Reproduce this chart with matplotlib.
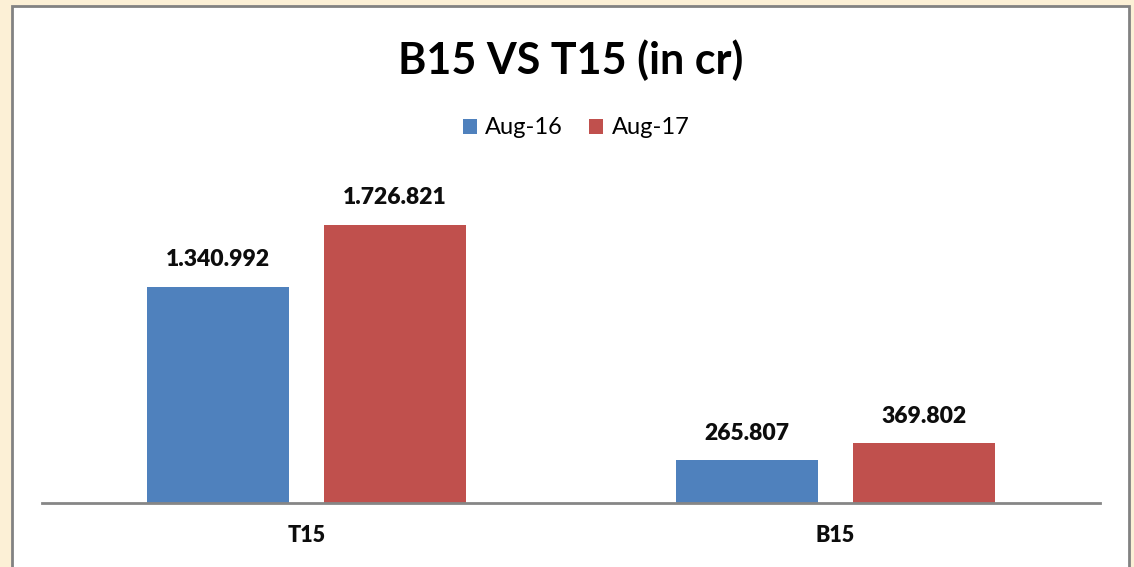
import matplotlib
matplotlib.use("Agg")
import matplotlib.pyplot as plt
from matplotlib.patches import Rectangle
import numpy as np

categories = ["T15", "B15"]
series_names = ["Aug-16", "Aug-17"]
aug16 = [1340.992, 265.807]
aug17 = [1726.821, 369.802]
labels16 = ["1.340.992", "265.807"]
labels17 = ["1.726.821", "369.802"]
colors = ["#4F81BD", "#C0504D"]

FONT = "Lato"
fig = plt.figure(figsize=(11.34, 5.67), dpi=100)
fig.patch.set_facecolor("#FCF0D6")

panel = Rectangle((12/1134, -0.05), 1117/1134, 1.05 - 6/567, transform=fig.transFigure,
                  facecolor="white", edgecolor="#828282", linewidth=2.0, zorder=-10)
fig.patches.append(panel)

ax = fig.add_axes([42/1134, 1 - 503/567, 1058/1134, (503 - 181)/567])
ax.set_facecolor("none")
x = np.arange(len(categories))
w = 0.2666
off = 0.1673
b1 = ax.bar(x - off, aug16, w, color=colors[0], label=series_names[0], zorder=2)
b2 = ax.bar(x + off, aug17, w, color=colors[1], label=series_names[1], zorder=2)
ax.set_xlim(-0.5, 1.5)
ax.set_ylim(0, 2000)
for bars, labs in ((b1, labels16), (b2, labels17)):
    for rect, lab in zip(bars, labs):
        ax.annotate(lab, (rect.get_x() + rect.get_width()/2, rect.get_height()),
                    xytext=(0, 12), textcoords="offset points", ha="center", va="bottom",
                    fontsize=16.5, fontweight="heavy", family=FONT, color="#0d0d0d")
for s in ["top", "left", "right"]:
    ax.spines[s].set_visible(False)
ax.spines["bottom"].set_color("#868686")
ax.spines["bottom"].set_linewidth(2.0)
ax.set_yticks([])
ax.set_xticks(x)
ax.set_xticklabels(categories, fontsize=15.5, fontweight="heavy", family=FONT, color="#0d0d0d")
ax.tick_params(axis="x", length=0, pad=16)

fig.text(571/1134, 1 - 60/567, "B15 VS T15 (in cr)", ha="center", va="center",
         fontsize=31, fontweight="bold", family=FONT, color="black")

leg = fig.legend(handles=[b1, b2], labels=series_names, loc="center",
                 bbox_to_anchor=(576/1134, 1 - 128/567), ncol=2, frameon=False,
                 prop={"family": FONT, "size": 17}, handlelength=0.6, handleheight=0.6,
                 handletextpad=0.35, columnspacing=1.1)

fig.savefig("out.png", dpi=100, facecolor=fig.get_facecolor())
